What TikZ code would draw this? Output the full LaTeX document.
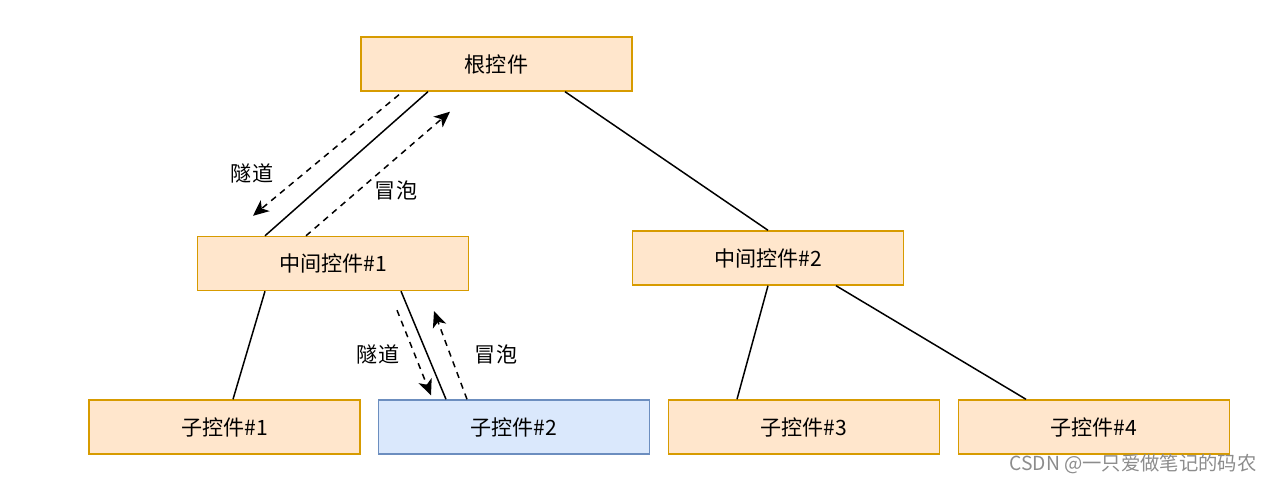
\documentclass[tikz,border=0pt]{standalone}
\usepackage{fontspec}
\setmainfont{Noto Sans CJK SC}
\usepackage{tikz}
\usetikzlibrary{arrows.meta}

\definecolor{orangefill}{HTML}{FFE6CC}
\definecolor{orangeline}{HTML}{D79B00}
\definecolor{bluefill}{HTML}{DAE8FC}
\definecolor{blueline}{HTML}{6C8EBF}

\tikzset{
  ctrl/.style={shape=rectangle,draw=orangeline,fill=orangefill,line width=0.8pt,
    minimum width=5.42cm,minimum height=1.08cm,inner sep=0pt,font=\fontsize{12}{14}\selectfont},
  ctrlsel/.style={ctrl,draw=blueline,fill=bluefill},
  link/.style={line width=0.85pt},
  flow/.style={line width=0.85pt,dash pattern=on 3.5pt off 3pt,-{Stealth[length=9pt,width=8pt,inset=2.5pt]}},
  lbl/.style={font=\fontsize{12}{14}\selectfont,inner sep=0pt}
}

\begin{document}
\begin{tikzpicture}
\useasboundingbox (0,0) rectangle (25.48,9.68);
    \node[ctrl] (root) at (9.93,8.40) {根控件};
\node[ctrl] (mid1) at (6.66,4.41) {中间控件\#1};
\node[ctrl] (mid2) at (15.36,4.52) {中间控件\#2};
\node[ctrl] (c1) at (4.49,1.14) {子控件\#1};
\node[ctrlsel] (c2) at (10.28,1.14) {子控件\#2};
\node[ctrl] (c3) at (16.08,1.14) {子控件\#3};
\node[ctrl] (c4) at (21.88,1.14) {子控件\#4};
\path[link] ([xshift=-1.37cm]root.south) edge ([xshift=-1.36cm]mid1.north);
\path[link] ([xshift=1.37cm]root.south) edge (mid2.north);
\path[link] ([xshift=-1.36cm]mid1.south) edge ([xshift=0.17cm]c1.north);
\path[link] ([xshift=1.36cm]mid1.south) edge ([xshift=-1.36cm]c2.north);
\path[link] (mid2.south) edge ([xshift=-1.34cm]c3.north);
\path[link] ([xshift=1.36cm]mid2.south) edge ([xshift=-1.36cm]c4.north);

\coordinate (tunA) at ([xshift=-1.6cm,yshift=0.4cm]mid1.north);
\coordinate (bubA) at ([xshift=-0.93cm,yshift=-0.4cm]root.south);
\coordinate (tunB) at ([xshift=-1.66cm,yshift=0.08cm]c2.north);
\coordinate (bubB) at ([xshift=2.02cm,yshift=-0.4cm]mid1.south);
\draw[flow] ([xshift=-1.95cm,yshift=-0.06cm]root.south) -- (tunA);
\draw[flow] ([xshift=-0.54cm]mid1.north) -- (bubA);
\draw[flow] ([xshift=1.28cm,yshift=-0.38cm]mid1.south) -- (tunB);
\draw[flow] ([xshift=-0.94cm]c2.north) -- (bubB);

\node[lbl] (t1) at (5.04,6.22) {隧道};
\node[lbl] (b1) at (7.92,5.88) {冒泡};
\node[lbl] (t2) at (7.56,2.60) {隧道};
\node[lbl] (b2) at (9.92,2.60) {冒泡};
%\node[lbl] at (9.93,9.3) {};
\node[text=black!45,font=\fontsize{11}{13}\selectfont,inner sep=0pt] (mark) at (22.66,0.40) {CSDN @一只爱做笔记的码农};

    \end{tikzpicture}
\end{document}
